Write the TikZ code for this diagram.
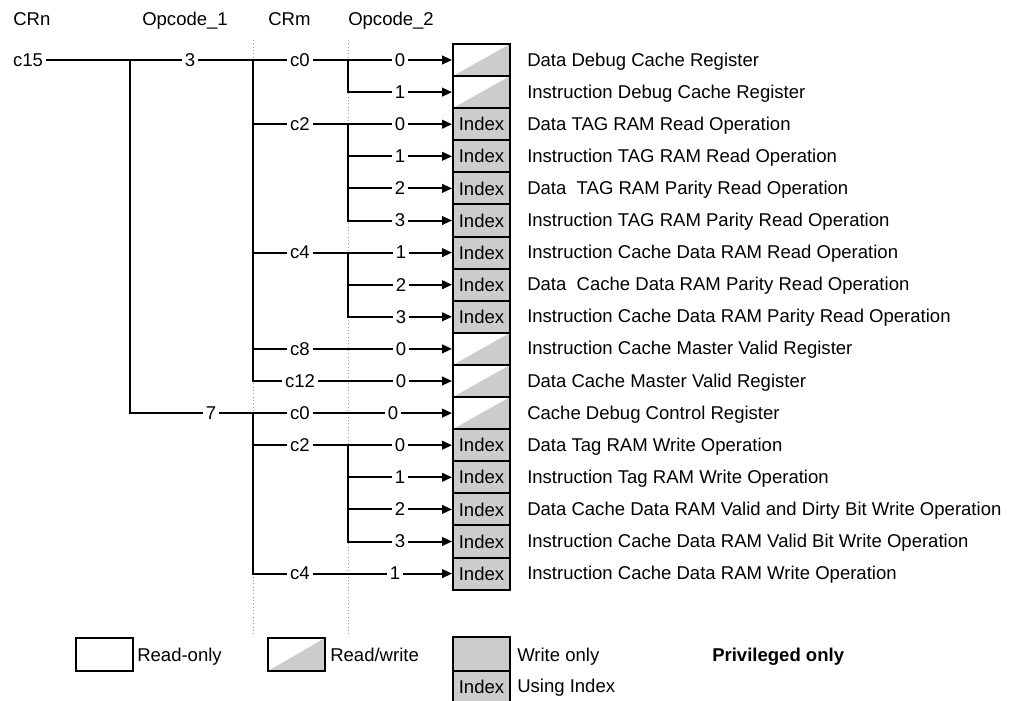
\documentclass[tikz,border=0pt]{standalone}
\usepackage{fontspec}
\setmainfont{Liberation Sans}
\usetikzlibrary{arrows.meta}

\definecolor{boxgrey}{HTML}{CCCCCC}
\definecolor{dotgrey}{HTML}{9A9A9A}
\newcommand{\regfont}{\fontsize{13.9}{16}\selectfont}

\tikzset{
  wire/.style={line width=1.5pt},
  feed/.style={wire,-{Triangle[length=7.5pt,width=6.5pt]}},
  guide/.style={dotgrey,line width=0.5pt,dotted},
  lbl/.style={inner sep=2pt,font=\regfont},
  regbox/.style={draw,line width=1.5pt,inner sep=0pt,minimum width=42.75pt,minimum height=24.1pt},
  roreg/.style={regbox,fill=white},
  rwreg/.style={regbox,fill=white,path picture={
      \fill[boxgrey] (path picture bounding box.south west) -- (path picture bounding box.south east)
        -- (path picture bounding box.north east) -- cycle;}},
  woreg/.style={regbox,fill=boxgrey},
  idxreg/.style={regbox,fill=boxgrey,label={[lbl]center:Index}}
}

\begin{document}
\begin{tikzpicture}[x=0.75pt,y=-0.75pt]

  \useasboundingbox (0,0) rectangle (1014,700);

  %% Dotted guides under CRm and Opcode_2
  \draw[guide] (253,40) -- (253,634);
  \draw[guide] (348,40) -- (348,634);

  %% Column headings
  \node[lbl,anchor=base west,inner sep=0pt] (hcrn) at (13,25) {CRn};
  \node[lbl,anchor=base west,inner sep=0pt] (hop1) at (142,25) {Opcode\_1};
  \node[lbl,anchor=base west,inner sep=0pt] (hcrm) at (268,25) {CRm};
  \node[lbl,anchor=base west,inner sep=0pt] (hop2) at (348,25) {Opcode\_2};

  %% Bus points for each row
  \foreach \i in {0,...,16} {
    \coordinate (u\i) at (253,{60+32.1*\i});
    \coordinate (p\i) at (348,{60+32.1*\i});
  }
  \coordinate (n0) at (130,60);
  \coordinate (n11) at (130,{60+32.1*11});

  %% Registers: row / opcode_2 / x of opcode_2 / kind / name
  \foreach \i/\op/\qx/\kind/\txt in {
      0/0/400/rwreg/Data Debug Cache Register,
      1/1/400/rwreg/Instruction Debug Cache Register,
      2/0/400/idxreg/Data TAG RAM Read Operation,
      3/1/400/idxreg/Instruction TAG RAM Read Operation,
      4/2/400/idxreg/Data\ \ TAG RAM Parity Read Operation,
      5/3/400/idxreg/Instruction TAG RAM Parity Read Operation,
      6/1/401/idxreg/Instruction Cache Data RAM Read Operation,
      7/2/401/idxreg/Data\ \ Cache Data RAM Parity Read Operation,
      8/3/401/idxreg/Instruction Cache Data RAM Parity Read Operation,
      9/0/401/rwreg/Instruction Cache Master Valid Register,
      10/0/401/rwreg/Data Cache Master Valid Register,
      11/0/393/rwreg/Cache Debug Control Register,
      12/0/400/idxreg/Data Tag RAM Write Operation,
      13/1/400/idxreg/Instruction Tag RAM Write Operation,
      14/2/400/idxreg/Data Cache Data RAM Valid and Dirty Bit Write Operation,
      15/3/400/idxreg/Instruction Cache Data RAM Valid Bit Write Operation,
      16/1/395/idxreg/Instruction Cache Data RAM Write Operation} {
    \node[\kind] (r\i) at (481.5,{60+32.1*\i}) {};
    \node[lbl] (q\i) at (\qx,{60+32.1*\i}) {\op};
    \node[lbl,anchor=base west,inner sep=0pt] (t\i) at (527,{66+32.1*\i}) {\txt};
    \draw[feed] (q\i) -- (r\i);
  }

  %% CRn and Opcode_1
  \node[lbl] (c15) at (28,60) {c15};
  \node[lbl] (o3) at (190,60) {3};
  \node[lbl] (o7) at (211,{60+32.1*11}) {7};

  %% CRm labels
  \foreach \i/\c in {0/c0,2/c2,6/c4,9/c8,10/c12,11/c0,12/c2,16/c4}
    \node[lbl] (m\i) at (300,{60+32.1*\i}) {\c};

  %% Opcode_1 bus
  \draw[wire] (c15) -- (o3);
  \draw[wire] (n0) -- (n11) -- (o7);

  %% CRm buses
  \draw[wire] (o3) -- (m0);
  \draw[wire] (u0) -- (u10) -- (m10);
  \foreach \i in {2,6,9}
    \draw[wire] (u\i) -- (m\i);
  \draw[wire] (o7) -- (m11);
  \draw[wire] (u11) -- (u16) -- (m16);
  \draw[wire] (u12) -- (m12);

  %% Opcode_2 buses
  \foreach \a/\b in {0/1,2/5,6/8,12/15} {
    \draw[wire] (m\a) -- (q\a);
    \draw[wire] (p\a) -- (p\b) -- (q\b);
  }
  \foreach \i in {3,4,7,13,14}
    \draw[wire] (p\i) -- (q\i);
  \foreach \i in {9,10,11,16}
    \draw[wire] (m\i) -- (q\i);

  %% Key
  \node[roreg,minimum height=24.75pt] (kro) at (104,654.5) {};
  \node[lbl,anchor=base west,inner sep=0pt] (tro) at (137,661) {Read-only};
  \node[rwreg,minimum height=24.75pt] (krw) at (296.5,654.5) {};
  \node[lbl,anchor=base west,inner sep=0pt] (trw) at (330,661) {Read/write};
  \node[woreg,minimum height=25.5pt] (kwo) at (481.5,654) {};
  \node[lbl,anchor=base west,inner sep=0pt] (two) at (517,661) {Write only};
  \node[idxreg] (kix) at (481.5,{671+16}) {};
  \node[lbl,anchor=base west,inner sep=0pt] (tix) at (517,692) {Using Index};
  \node[lbl,anchor=base west,inner sep=0pt,font=\regfont\bfseries] (tpr) at (712,661) {Privileged only};

\end{tikzpicture}
\end{document}
